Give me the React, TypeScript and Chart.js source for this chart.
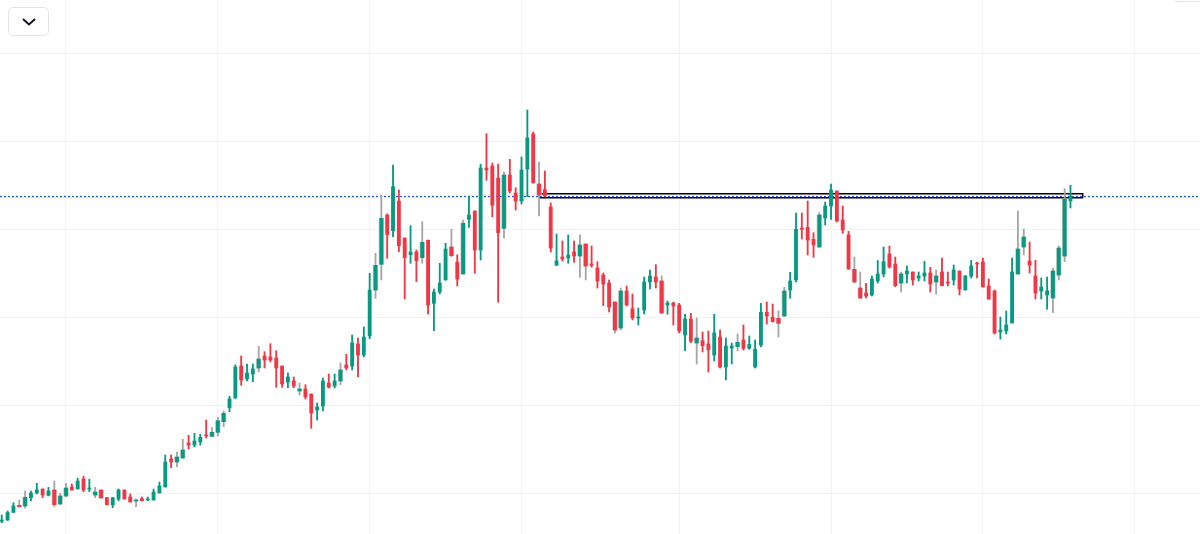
import { useEffect, useRef } from 'react';
import Chart from 'chart.js/auto';

// price values, one entry per session
const opens = [12.7,14,21.7,28.7,28,36.3,41,45,38.7,44,30,38,47,45,55,45,39,44,36.3,29,35,44,37,33,35.3,34,34,41,47,75,72,76,91,89,92,99,97.7,101.7,112.3,126.3,136,168,155,160,166,178,177,176,168,152,153,143,145,140,124,128,151,148,153,169,168,190,179,198,244,269.7,319,303.3,333,296,279.3,282,276.3,293.7,230.7,242,254,287,271.7,260,314.7,323,284,366,368,356,305.7,359,341,333,365,400,350,344.3,327,268.7,277,276,282,278,290,270,266,259,251,232,206,243,225.3,216,224,252,257,253,229,231,229,199,215,191,193.3,190,179,197,167,186,187.3,194,185.7,167,189,221.7,216.7,215.7,218,244,254,306,306.7,294.7,287,316,328,343,314,299,264.7,246,241,239,253,260,280,270,251,260,262,256,258,261,252,262,252,254,263,244,258,271,272,248,243,202,203,211,260,287,273,258,243,239,236,259,278,333];
const highs = [19,23,31.3,34,43,43,50.7,45,46.7,53,40.7,50.7,50,55.7,57.7,54.7,46.7,44,36.7,36.7,45,44,40,35,37,37,45,52,79,79,82,94.7,98.7,100.7,99.7,114,106.3,116.7,123,137.7,169,178,170,170,187.7,182.3,190.3,183.3,168,161,157,151,149.3,140,131,156,160,160,171,179.7,199,196,207,260.7,280.7,339,320,369,344,296,308.3,284,312.3,294,245,270.7,290.7,304.7,279.3,314,338,323,369.7,400.3,371,370,362,374.7,346.3,377,424,402,372,363,331,300,293,299,293,299,290,288,272.3,261,254,232,246,248,240,226,257,264,269.3,258,233,232,230.7,219.7,220.7,216,202,203,219.7,204,196,191,200,209,198,194,230.7,232,230,223.3,246.7,261.7,321,321,333,301.3,321.3,332,350,343,328,302.7,277,262,250.7,258,273.5,287,288,277,262,268,262,262,272.7,266.7,264,276,262,269,263,258.5,273.7,272,276,255,244,217,223,276,323,305,292,273.7,256,257,265.7,288,345.3,348.7];
const lows = [11.3,13.5,21.3,27,26,33,40,36.3,38,27.3,29.7,37.3,44,45,42.3,42.3,36.3,36,29,26.3,33.3,35,32,27.3,33,33.3,34,41,47,66.3,67.3,76,85,87,89,96,97,98,107.3,122.3,135.7,148.7,153,152.3,162,166,172,146.7,146.7,146.3,146.3,139,135,105.7,114,123,146,146,149.3,164,164,157,177,195.3,235.7,254,275.7,297.3,282.3,235,270.7,252.3,270.7,220,203.3,240,254,277.3,248,260,306.7,260.7,274,353.7,317.3,231.7,296,341,324,330,337.3,350.7,318,337.3,282,268.7,273,270.7,271.7,256.7,254,266.7,246,228.3,222,201,204,228,214,209,220,245,246,220.7,219.7,209,201,183.3,191.3,170,182,162,173,166,154,170,183,184,184.7,166,187.3,210,212,197,217.7,235.7,252,295,279,276.7,286.7,309,314.7,312,300.7,264.7,251,235.3,236,238,251,257,266,247.3,242,251,249,253,253,242,240,248,248,249,239,244,256,256,247,234.7,200,195,200,211,260,279,261,235,235,224.7,221.3,254,272.3,326];
const closes = [14,21.5,28,27.3,36.7,41,44,39,43,29.3,38,46,44,53,44,46,42,36,29.3,36.3,44,35,32,34,33.3,35,42,48,72,72,77,84,89,93,96.7,98,101.7,113.3,120.7,135,167,154,161,165,175,174,174,166,150,157,148,145,137,121,127,153,146.7,153,164,166,191,179,197,244,268.7,315.7,299.3,347.3,288.3,276.3,282,273.3,291.7,229,242,251,285,278.3,255,310.7,319,284,366,364,329,301.3,359,343,333,364,396,351.3,339,338,286,273,275,279,278,289,268,268.7,253,250,227,204,243,229,216,217,252,258,252,221,231,228,203,215,193,196,188.3,184.3,201,167,188,188,191.7,185.7,189.7,184.7,221.7,218,212.3,210.7,243,253,304.7,304.7,294,289,319,328,344,313,304,265,252,236,238,255,260,272.3,267,248.3,260,263,254,258,261,250,258,248.3,251,264,245,258,268,270,247,235,201,204,209,262,285,297,269,241,247,243,263,286,335,338];

// candles drawn with a grey wick and a grey edge around the body
const greyCandles = [3,4,9,10,11,16,17,23,30,31,36,37,38,44,51,58,64,65,72,77,79,86,92,99,100,105,106,113,119,126,133,134,140,146,147,154,160,174,175,180,181,182];

const gridCandles = [11, 37, 63, 89, 116, 142, 168, 194];
const gridPrices = [41, 129, 217, 305, 393, 481];

const lastPrice = 337.5;
const zonePrices = [336.2, 340.2];
const zoneCandles = [92, 185.1];

const UP = '#089981';
const DOWN = '#f23645';
const GREY = '#a6a6a6';

export default function App() {
    const canvasRef = useRef<HTMLCanvasElement>(null);

    useEffect(() => {
        if (!canvasRef.current) return;

        const colors = closes.map((c, i) => (c >= opens[i] ? UP : DOWN));
        const wicks = highs.map((h, i) => ({ x: i, y: [lows[i], h] }));
        const bodies = opens.map((o, i) => ({ x: i, y: [o, closes[i]] }));
        const greyIds = new Set(greyCandles);

        const chart = new Chart(canvasRef.current, {
            type: 'bar',
            data: {
                datasets: [
                    {
                        label: 'last',
                        type: 'line',
                        data: [
                            { x: -1, y: lastPrice },
                            { x: 206, y: lastPrice },
                        ],
                        borderColor: '#1e50ff',
                        borderWidth: 1.3,
                        borderDash: [2, 2],
                        pointRadius: 0,
                        order: 5,
                    },
                    {
                        label: 'zone',
                        type: 'line',
                        data: [
                            { x: zoneCandles[0], y: zonePrices[0] },
                            { x: zoneCandles[1], y: zonePrices[0] },
                            { x: zoneCandles[1], y: zonePrices[1] },
                            { x: zoneCandles[0], y: zonePrices[1] },
                            { x: zoneCandles[0], y: zonePrices[0] },
                        ],
                        borderColor: '#000',
                        borderWidth: 1.4,
                        pointRadius: 0,
                        order: 4,
                    },
                    {
                        label: 'edge',
                        data: bodies.filter(b => greyIds.has(b.x)),
                        backgroundColor: '#c4c4c4',
                        barThickness: 4.6,
                        grouped: false,
                        order: 3,
                    },
                    {
                        label: 'wick',
                        data: wicks,
                        backgroundColor: wicks.map(w => (greyIds.has(w.x) ? GREY : colors[w.x])),
                        barThickness: 1.2,
                        grouped: false,
                        order: 2,
                    },
                    {
                        label: 'body',
                        data: bodies,
                        backgroundColor: colors,
                        barThickness: 3.2,
                        grouped: false,
                        order: 1,
                    },
                ],
            },
            options: {
                responsive: false,
                devicePixelRatio: 1,
                animation: false,
                layout: { padding: 0 },
                plugins: {
                    legend: { display: false },
                    tooltip: { enabled: false },
                },
                scales: {
                    x: {
                        type: 'linear',
                        min: -0.3,
                        max: 205.18,
                        offset: false,
                        afterBuildTicks: axis => {
                            axis.ticks = gridCandles.map(value => ({ value }));
                        },
                        grid: { color: '#f2f2f4', drawTicks: false, offset: false },
                        border: { display: false },
                        ticks: { display: false },
                    },
                    y: {
                        min: 0,
                        max: 534,
                        afterBuildTicks: axis => {
                            axis.ticks = gridPrices.map(value => ({ value }));
                        },
                        grid: { color: '#f2f2f4', drawTicks: false },
                        border: { display: false },
                        ticks: { display: false },
                    },
                },
            },
        });

        return () => chart.destroy();
    }, []);

    return (
        <div style={{ position: 'absolute', left: 0, top: 0, width: 1200, height: 534, background: '#fff', overflow: 'hidden' }}>
            <canvas ref={canvasRef} width={1200} height={534} style={{ display: 'block' }} />
            <div
                style={{
                    position: 'absolute',
                    left: 8,
                    top: 7,
                    width: 39,
                    height: 27,
                    border: '1px solid #e0e3eb',
                    borderRadius: 5,
                    background: '#fff',
                    display: 'flex',
                    alignItems: 'center',
                    justifyContent: 'center',
                }}
            >
                <svg width="14" height="8" viewBox="0 0 14 8">
                    <polyline points="1,1 7,6.5 13,1" fill="none" stroke="#131722" strokeWidth="2" />
                </svg>
            </div>
            <div
                style={{
                    position: 'absolute',
                    left: 1174,
                    top: -6,
                    width: 40,
                    height: 6,
                    border: '1px solid #e0e3eb',
                    borderRadius: 5,
                    background: '#fff',
                }}
            />
        </div>
    );
}
